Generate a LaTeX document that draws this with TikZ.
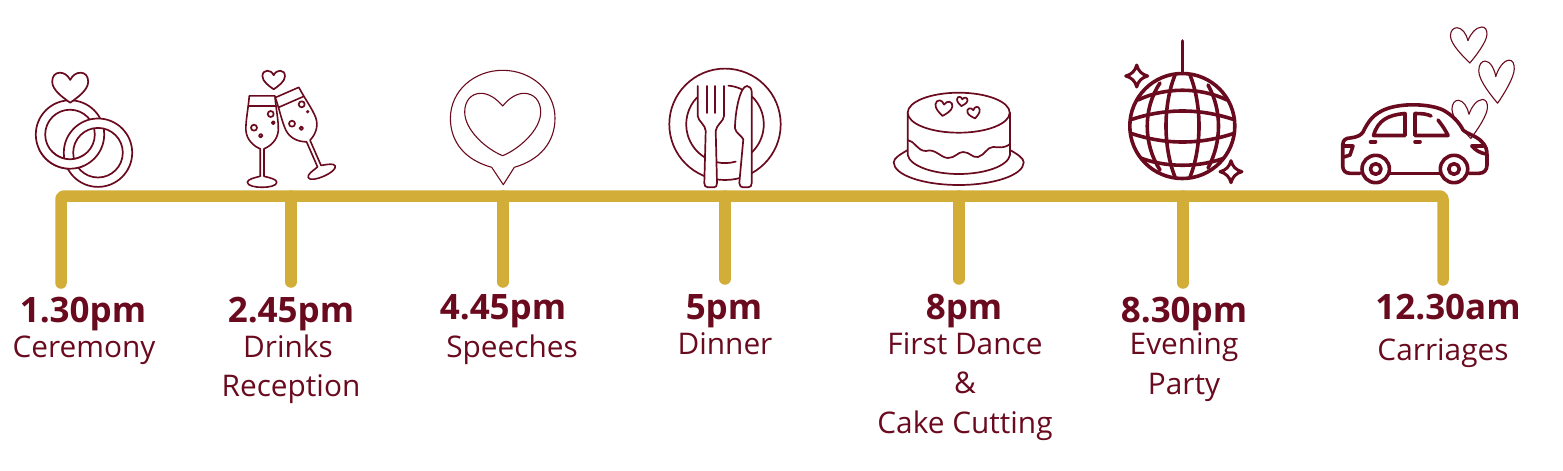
\documentclass[tikz,border=0pt]{standalone}
\usepackage{fontspec}
\setmainfont{Open Sans}
\usetikzlibrary{calc}
\definecolor{maroon}{HTML}{6A0A1E}
\definecolor{gold}{HTML}{D2AE38}
\newcommand\heartshape{(0,-.26) .. controls (.07,-.43) and (.18,-.5) .. (.29,-.5) .. controls (.42,-.5) and (.5,-.38) .. (.5,-.2) .. controls (.5,.08) and (.2,.33) .. (0,.5) .. controls (-.2,.33) and (-.5,.08) .. (-.5,-.2) .. controls (-.5,-.38) and (-.42,-.5) .. (-.29,-.5) .. controls (-.18,-.5) and (-.07,-.43) .. (0,-.26) -- cycle}
\newcommand\sharpheart{(-.02,-.12) .. controls (.04,-.3) and (.2,-.5) .. (.36,-.5) .. controls (.46,-.5) and (.5,-.42) .. (.5,-.3) .. controls (.5,-.1) and (.2,.3) .. (.03,.5) .. controls (-.12,.35) and (-.5,-.02) .. (-.5,-.25) .. controls (-.5,-.4) and (-.42,-.48) .. (-.32,-.48) .. controls (-.18,-.48) and (-.06,-.3) .. (-.02,-.12) -- cycle}
% #1 style, #2 x, #3 y, #4 w, #5 h, #6 rotation
\newcommand\lovemark[6]{\draw[#1,shift={(#2,#3)},rotate=#6,xscale=#4,yscale=#5] \heartshape;}
\newcommand\lovesketch[4]{\draw[thinicon,shift={(#1,#2)},xscale=#3,yscale=#4] \sharpheart;}
\newcommand\sparkle[3]{\draw[icon,line width=3pt,shift={(#1,#2)},scale=#3] (0,-1) .. controls (.15,-.45) and (.45,-.15) .. (1,0) .. controls (.45,.15) and (.15,.45) .. (0,1) .. controls (-.15,.45) and (-.45,.15) .. (-1,0) .. controls (-.45,-.15) and (-.15,-.45) .. (0,-1) -- cycle;}
\newcommand\flute[3]{\begin{scope}[shift={(#1,#2)},rotate=#3]
\draw[icon,line width=1.6pt] (-12.8,-86.5) -- (12.8,-86.5) .. controls (14,-72) and (16.5,-62) .. (16.2,-52) .. controls (15.5,-42) and (8,-36) .. (1.9,-33.5) -- (1.9,-6) .. controls (8,-4.5) and (14.7,-3) .. (14.7,0) .. controls (14.7,3.5) and (7,5) .. (0,5) .. controls (-7,5) and (-14.7,3.5) .. (-14.7,0) .. controls (-14.7,-3) and (-8,-4.5) .. (-1.9,-6) -- (-1.9,-33.5) .. controls (-8,-36) and (-15.5,-42) .. (-16.2,-52) .. controls (-16.5,-62) and (-14,-72) .. (-12.8,-86.5) -- cycle;
\draw[icon,line width=1.6pt] (-13.8,-76.2) -- (13.8,-76.2);
\end{scope}}
\tikzset{
  x=1pt,y=-1pt,
  icon/.style={draw=maroon,line cap=round,line join=round},
  thinicon/.style={icon,line width=1.1pt},
  midicon/.style={icon,line width=1.7pt},
  heavyicon/.style={icon,line width=3.6pt},
  bar/.style={draw=gold,line width=11.5pt,line cap=round,line join=round},
  timelabel/.style={anchor=base,inner sep=0pt,text=maroon,font=\fontsize{35}{35}\selectfont\bfseries},
  eventlabel/.style={anchor=base,inner sep=0pt,text=maroon,font=\fontsize{29.8}{30}\selectfont},
}
\begin{document}
\begin{tikzpicture}
\useasboundingbox (0,0) rectangle (1563,471);
% --- timeline
\coordinate (t1) at (61,196);  \coordinate (e1) at (61,283);
\coordinate (t2) at (291,196); \coordinate (e2) at (291,282);
\coordinate (t3) at (503,196); \coordinate (e3) at (503,282);
\coordinate (t4) at (725,196); \coordinate (e4) at (725,279);
\coordinate (t5) at (959,196); \coordinate (e5) at (959,279);
\coordinate (t6) at (1183,196);\coordinate (e6) at (1183,283);
\coordinate (t7) at (1443,196);\coordinate (e7) at (1443,280);
\draw[bar,rounded corners=3pt] (e1) -- (t1) -- (t7) -- (e7);
\foreach \i in {2,...,6} \draw[bar] (t\i) -- (e\i);
% --- labels
\node[timelabel] (a1) at (83,322) {1.30pm};
\node[eventlabel] (b1) at (84,357) {Ceremony};
\node[timelabel] (a2) at (291,322) {2.45pm};
\node[eventlabel] (b2) at (288,357) {Drinks};
\node[eventlabel] (c2) at (291,396) {Reception};
\node[timelabel] (a3) at (503,319) {4.45pm};
\node[eventlabel] (b3) at (512,357) {Speeches};
\node[timelabel] (a4) at (724,319) {5pm};
\node[eventlabel] (b4) at (725,354) {Dinner};
\node[timelabel] (a5) at (964,319) {8pm};
\node[eventlabel] (b5) at (965,354) {First Dance};
\node[eventlabel] (c5) at (965,393) {\&};
\node[eventlabel] (d5) at (965,433) {Cake Cutting};
\node[timelabel] (a6) at (1184,322) {8.30pm};
\node[eventlabel] (b6) at (1184,354) {Evening};
\node[eventlabel] (c6) at (1184,394) {Party};
\node[timelabel] (a7) at (1448,319) {12.30am};
\node[eventlabel] (b7) at (1443,360) {Carriages};
% --- rings
\begin{scope}[midicon]
\path[fill=white,even odd rule] (70,134.5) circle[radius=34.2pt] (70,134.5) circle[radius=24.8pt];
\draw (70,134.5) circle[radius=34.2pt] (70,134.5) circle[radius=24.8pt];
\path[fill=white,even odd rule] (98,152.7) circle[radius=34.2pt] (98,152.7) circle[radius=24.8pt];
\draw (98,152.7) circle[radius=34.2pt] (98,152.7) circle[radius=24.8pt];
\begin{scope}
\clip (30,150) rectangle (84,175);
\path[fill=white,even odd rule] (70,134.5) circle[radius=34.2pt] (70,134.5) circle[radius=24.8pt];
\draw (70,134.5) circle[radius=34.2pt] (70,134.5) circle[radius=24.8pt];
\end{scope}
\end{scope}
\lovemark{midicon,fill=white}{70.2}{87.7}{36}{30}{0}
% --- glasses
\flute{262.1}{182.3}{0}
\flute{321.7}{171.7}{23.6}
\lovemark{midicon}{273.7}{80}{22.5}{18.6}{0}
\foreach \px/\py/\pr in {270.7/114/3,273.3/122.7/1.5,254/127.7/3,260.7/135.7/1.8,301.7/104.3/3,292/123.7/3,301.3/128.3/1.8}
  \draw[midicon] (\px,\py) circle[radius=\pr pt];
\fill[maroon] (307.7,111.7) circle[radius=1.8pt];
% --- speech bubble
\draw[thinicon] (491.7,167.3) .. controls (465,160) and (450.4,142) .. (450.4,118.3) .. controls (450.4,91) and (474,70.3) .. (502.7,70.3) .. controls (531.5,70.3) and (555,91) .. (555,118.3) .. controls (555,142) and (540,160) .. (514.3,167.3) -- (503.3,184.7) -- cycle;
\draw[thinicon] (502.7,106) .. controls (496,98) and (488,93.3) .. (481,93.3) .. controls (471,93.3) and (464.7,101) .. (464.7,112) .. controls (464.7,130) and (486,149) .. (502.7,155.7) .. controls (519,149) and (540.7,130) .. (540.7,112) .. controls (540.7,101) and (534,93.3) .. (524,93.3) .. controls (517,93.3) and (509,98) .. (502.7,106) -- cycle;
% --- plate, fork, knife
\draw[midicon] (725,124.3) circle[radius=55.7pt];
\draw[midicon] (725,124.3) ++(85:38.8pt) arc[start angle=85,end angle=48,radius=38.8pt];
\draw[midicon] (725,124.3) ++(48:38.8pt) arc[start angle=48,end angle=-49,radius=38.8pt];
\draw[midicon] (725,124.3) ++(-102:38.8pt) arc[start angle=-102,end angle=-74,radius=38.8pt];
\draw[midicon] (725,124.3) ++(136:38.8pt) arc[start angle=136,end angle=238,radius=38.8pt];
\draw[midicon,fill=white] (697.7,86) -- (697.7,116) .. controls (698,121) and (705.7,125) .. (705.7,131) -- (704.3,183) .. controls (704.3,186) and (705.5,187.3) .. (708,187.3) -- (714,187.3) .. controls (716,187.3) and (717,186) .. (717,183) -- (715.7,131) .. controls (716,125) and (724,121) .. (724,116) -- (724,86);
\draw[midicon] (707,86) -- (707,113) (715,86) -- (715,113);
\draw[midicon,fill=white] (751.7,92) .. controls (751.7,88) and (749,86) .. (747,86) .. controls (740,86) and (735,112) .. (735,128.3) .. controls (735.5,133) and (742,136) .. (743.3,139.3) -- (739.3,183) .. controls (739.3,186) and (741,187.3) .. (743,187.3) -- (748,187.3) .. controls (750.5,187.3) and (751.7,186) .. (751.7,183) -- cycle;
% --- cake
\draw[midicon,fill=white] (907.7,150) .. controls (901,154) and (893.7,158) .. (893.7,162.3) .. controls (893.7,175) and (923,185) .. (958.7,185) .. controls (994,185) and (1023.7,175) .. (1023.7,162.3) .. controls (1023.7,158) and (1017,154) .. (1010,150);
\draw[midicon,fill=white] (907.7,112.7) -- (907.7,155) .. controls (910,166) and (933,174) .. (958.7,174) .. controls (985,174) and (1008,166) .. (1010,155) -- (1010,112.7);
\draw[midicon,fill=white] (958.7,112.7) ellipse[x radius=51pt,y radius=20pt];
\draw[midicon] (907.7,140) .. controls (915,141) and (917,151) .. (926,151) .. controls (935,148) and (941,158) .. (948,158) .. controls (955,158) and (958,152) .. (963,152) .. controls (970,152) and (972,158) .. (978,157) .. controls (985,155) and (987,147) .. (993,147) .. controls (1000,147) and (1003,149) .. (1010,144);
\lovemark{midicon}{943.5}{108.5}{17}{15}{-8}
\lovemark{midicon}{962}{101.7}{10.5}{9}{-8}
\lovemark{midicon}{974}{113}{12.5}{11}{12}
% --- disco ball
\draw[heavyicon] (1182.3,41) -- (1182.3,73.3);
\draw[heavyicon] (1182.3,126) circle[radius=52.5pt];
\begin{scope}[heavyicon]
\clip (1182.3,126) circle[radius=52.5pt];
\draw (1175,75) .. controls (1163,105) and (1163,147) .. (1175,177);
\draw (1190,75) .. controls (1202,105) and (1202,147) .. (1190,177);
\draw (1160,83) .. controls (1143,108) and (1143,144) .. (1160,170);
\draw (1208,85) .. controls (1222,110) and (1222,142) .. (1208,168);
\draw (1138,100) .. controls (1165,87) and (1200,87) .. (1227,100);
\draw (1130,120) .. controls (1165,108) and (1200,108) .. (1235,120);
\draw (1130,133) .. controls (1165,145) and (1200,145) .. (1235,133);
\draw (1138,157) .. controls (1165,168) and (1200,168) .. (1227,157);
\end{scope}
\sparkle{1136.7}{76}{11}
\sparkle{1231}{171.7}{11}
% --- floating hearts
\lovesketch{1468.7}{45}{36.5}{36}
\lovesketch{1496.5}{81.7}{35.5}{43}
\lovesketch{1469.7}{119}{35.5}{39}
% --- car
\begin{scope}[heavyicon]
\draw (1390,173.3) -- (1440,173.3);
\draw (1360,173.3) -- (1350,173.3) .. controls (1345,173.3) and (1342.7,170) .. (1342.7,166) -- (1342.7,145) .. controls (1342.7,140) and (1346,138) .. (1350,138) .. controls (1358,137) and (1361,135) .. (1363,132) .. controls (1368,122) and (1373,113) .. (1389,108) .. controls (1405,103) and (1430,104) .. (1443,110) .. controls (1452,115) and (1459,122) .. (1463,130) .. controls (1467,134) and (1477,136) .. (1482,142) .. controls (1486,146) and (1487,150) .. (1487,155) -- (1487,165) .. controls (1487,170) and (1484,173.3) .. (1479,173.3) -- (1469,173.3);
\draw (1373.5,135.5) .. controls (1378,120) and (1388,115) .. (1405,113.5) -- (1405,135.5) -- cycle;
\draw (1431,116) .. controls (1427,114) and (1422,113.5) .. (1415,113.5) -- (1415,135.5) -- (1448,135.5) .. controls (1446,131) and (1442,125) .. (1438,120);
\draw (1370.5,141.7) -- (1375.5,141.7);
\draw (1415,141.7) -- (1420,141.7);
\draw (1342.7,146) -- (1353,146) -- (1350,155) -- (1344,157);
\draw (1472,146) .. controls (1475,150) and (1480,153) .. (1486,154);
\draw (1472,146) -- (1483,146);
\draw (1375.7,169) circle[radius=13.7pt];
\draw (1375.7,169) circle[radius=5.3pt];
\draw (1454,169) circle[radius=13.7pt];
\draw (1454,169) circle[radius=5.3pt];
\end{scope}
\end{tikzpicture}
\end{document}
